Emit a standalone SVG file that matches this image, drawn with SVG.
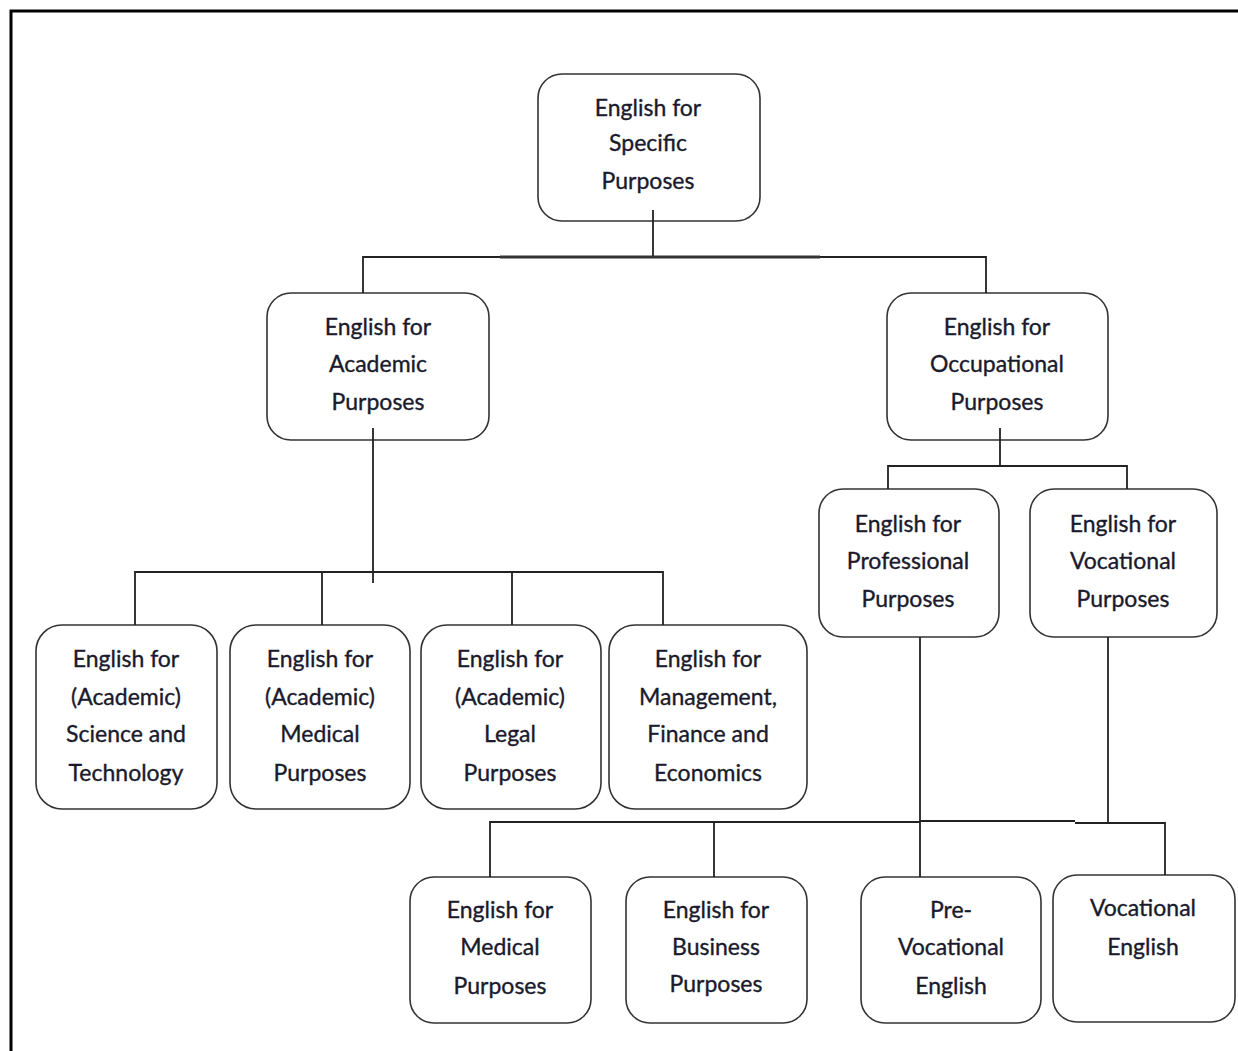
<svg xmlns="http://www.w3.org/2000/svg" width="1238" height="1051" viewBox="0 0 1238 1051">
<style>
.box{fill:#fff;stroke:#333;stroke-width:1.6}
.t{font-family:Lato,"Open Sans","Liberation Sans",sans-serif;font-size:23px;fill:#1a1a2c;stroke:#1a1a2c;stroke-width:0.35;text-anchor:middle}
.c{fill:none;stroke:#222;stroke-width:1.8}
</style>
<rect width="1238" height="1051" fill="#fff"/>
<path d="M11,1051 V11 H1238" fill="none" stroke="#000" stroke-width="3"/>
<g id="esp"><rect class="box" x="538" y="74" width="222" height="147" rx="24"/><text class="t"><tspan x="648" y="116">English for</tspan><tspan x="648" y="151">Specific</tspan><tspan x="648" y="189">Purposes</tspan></text></g>
<g id="eap"><rect class="box" x="267" y="293" width="222" height="147" rx="24"/><text class="t"><tspan x="378" y="335">English for</tspan><tspan x="378" y="372">Academic</tspan><tspan x="378" y="410">Purposes</tspan></text></g>
<g id="eop"><rect class="box" x="887" y="293" width="221" height="147" rx="24"/><text class="t"><tspan x="997" y="335">English for</tspan><tspan x="997" y="372">Occupational</tspan><tspan x="997" y="410">Purposes</tspan></text></g>
<g id="epp"><rect class="box" x="819" y="489" width="180" height="148" rx="24"/><text class="t"><tspan x="908" y="532">English for</tspan><tspan x="908" y="569">Professional</tspan><tspan x="908" y="607">Purposes</tspan></text></g>
<g id="evp"><rect class="box" x="1030" y="489" width="187" height="148" rx="24"/><text class="t"><tspan x="1123" y="532">English for</tspan><tspan x="1123" y="569">Vocational</tspan><tspan x="1123" y="607">Purposes</tspan></text></g>
<g id="sci"><rect class="box" x="36" y="625" width="181" height="184" rx="26"/><text class="t"><tspan x="126" y="667">English for</tspan><tspan x="126" y="705">(Academic)</tspan><tspan x="126" y="742">Science and</tspan><tspan x="126" y="781">Technology</tspan></text></g>
<g id="med"><rect class="box" x="230" y="625" width="180" height="184" rx="26"/><text class="t"><tspan x="320" y="667">English for</tspan><tspan x="320" y="705">(Academic)</tspan><tspan x="320" y="742">Medical</tspan><tspan x="320" y="781">Purposes</tspan></text></g>
<g id="legal"><rect class="box" x="421" y="625" width="180" height="184" rx="26"/><text class="t"><tspan x="510" y="667">English for</tspan><tspan x="510" y="705">(Academic)</tspan><tspan x="510" y="742">Legal</tspan><tspan x="510" y="781">Purposes</tspan></text></g>
<g id="mgmt"><rect class="box" x="609" y="625" width="198" height="184" rx="26"/><text class="t"><tspan x="708" y="667">English for</tspan><tspan x="708" y="705">Management,</tspan><tspan x="708" y="742">Finance and</tspan><tspan x="708" y="781">Economics</tspan></text></g>
<g id="emp"><rect class="box" x="410" y="877" width="181" height="146" rx="24"/><text class="t"><tspan x="500" y="918">English for</tspan><tspan x="500" y="955">Medical</tspan><tspan x="500" y="994">Purposes</tspan></text></g>
<g id="ebp"><rect class="box" x="626" y="877" width="181" height="146" rx="24"/><text class="t"><tspan x="716" y="918">English for</tspan><tspan x="716" y="955">Business</tspan><tspan x="716" y="992">Purposes</tspan></text></g>
<g id="prevoc"><rect class="box" x="861" y="877" width="180" height="146" rx="24"/><text class="t"><tspan x="951" y="918">Pre-</tspan><tspan x="951" y="955">Vocational</tspan><tspan x="951" y="994">English</tspan></text></g>
<g id="voce"><rect class="box" x="1053" y="875" width="182" height="147" rx="24"/><text class="t"><tspan x="1143" y="916">Vocational</tspan><tspan x="1143" y="955">English</tspan></text></g>
<g id="connectors">
<path class="c" d="M653,210 V257 M363,293 V257 H986 V293" stroke="#666"/>
<path d="M500,257 H820" stroke="#333" stroke-width="3"/>
<path class="c" d="M373,428 V583 M135,625 V572 H663 V625 M322,572 V625 M512,572 V625"/>
<path class="c" d="M1000,428 V466 M888,489 V466 H1127 V489"/>
<path class="c" d="M920,637 V877 M490,877 V822 H920 M920,821 H1075 M1075,823 H1165 V875 M1108,637 V823 M714,822 V877"/>
</g>
</svg>
